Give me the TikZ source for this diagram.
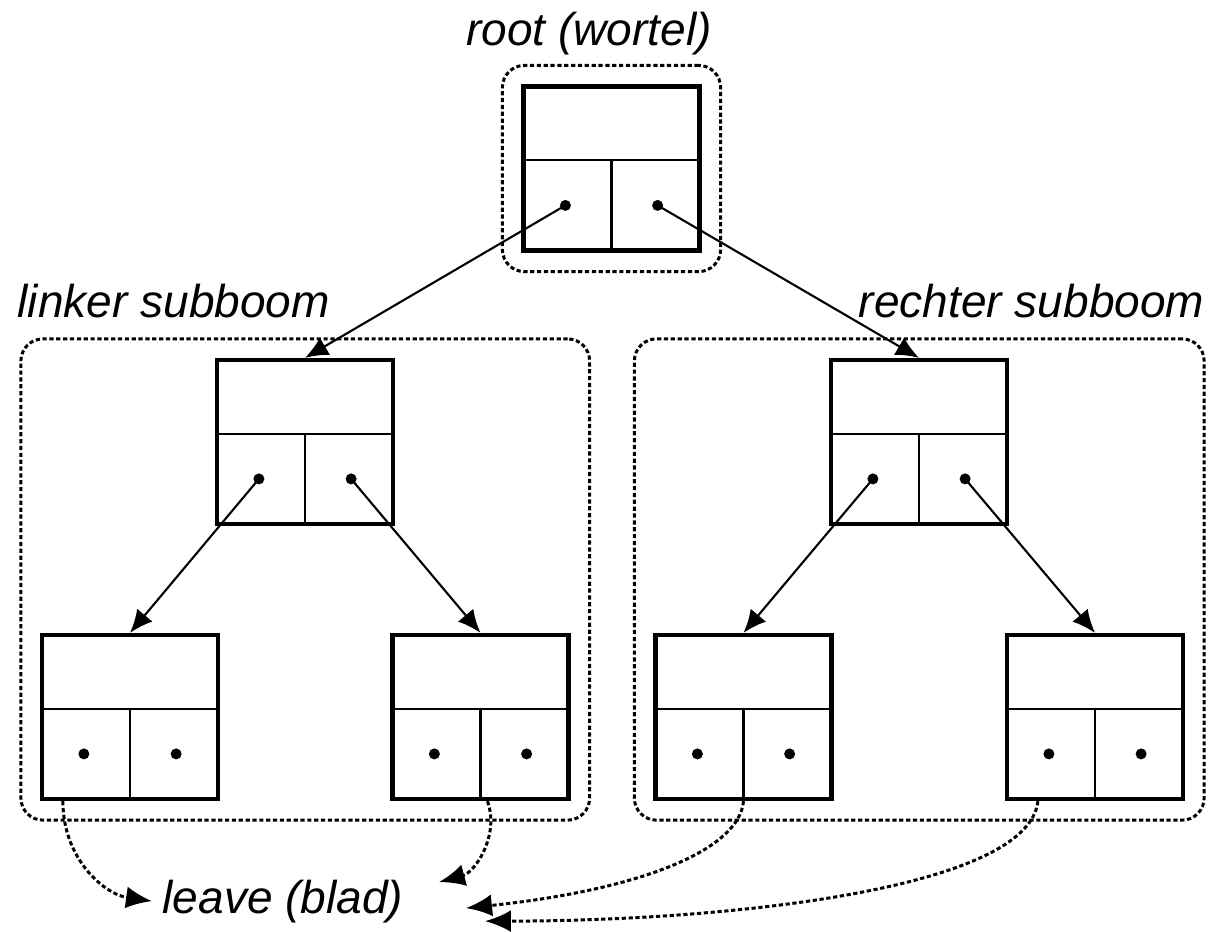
\documentclass[tikz,border=0pt]{standalone}
\usepackage{fontspec}
\setmainfont{Liberation Sans}
\usetikzlibrary{arrows.meta,fit}

\begin{document}
\begin{tikzpicture}[scale=1,
  cell/.style={draw,line width=1.2pt,minimum width=1.76cm,minimum height=1.64cm,inner sep=0pt},
  frame/.style={draw,line width=0.85pt,dash pattern=on 1.2pt off 0.75pt,rounded corners=0.22cm,inner sep=0.19cm},
  link/.style={line width=0.6pt,-{Latex[length=2.3mm,width=2mm]}},
  leafarrow/.style={line width=0.85pt,dash pattern=on 1.2pt off 0.75pt,-{Latex[length=2.6mm,width=2.2mm]}},
  lbl/.style={font=\fontsize{13.1}{15}\selectfont\itshape,inner sep=0.1cm}]
\useasboundingbox (0,0) rectangle (12.13,9.31);
% cells: value on top, left and right pointer below
\foreach \n/\x/\y in {root/6.115/7.625, lm/3.05/4.89, rm/9.19/4.89,
  ll/1.30/2.14, lr/4.805/2.14, rl/7.435/2.14, rr/10.95/2.14} {
  \node[cell] (\n) at (\x,\y) {};
  \draw[line width=0.6pt] ([yshift=-0.76cm]\n.north west) -- ([yshift=-0.76cm]\n.north east);
  \draw[line width=0.6pt] ([yshift=-0.76cm]\n.north) -- (\n.south);
  \coordinate (\n-l) at ([shift={(0.44,-1.21)}]\n.north west);
  \coordinate (\n-r) at ([shift={(-0.44,-1.21)}]\n.north east);
  \fill (\n-l) circle (0.055) (\n-r) circle (0.055);
}
% dashed groups
\node[frame,fit=(root)] (rootframe) {};
\node[frame,fit=(lm)(ll)(lr)] (leftframe) {};
\node[frame,fit=(rm)(rl)(rr)] (rightframe) {};
% labels
\node[lbl,anchor=base] (rootlbl) at (5.89,8.86) {root (wortel)};
\node[lbl,anchor=base west] (leftlbl) at (0.07,6.14) {linker subboom};
\node[lbl,anchor=base east] (rightlbl) at (12.15,6.14) {rechter subboom};
\node[lbl,anchor=base west] (leaf) at (1.52,0.18) {leave (blad)};
% pointers
\draw[link] (root-l) -- (lm.north);
\draw[link] (root-r) -- (rm.north);
\draw[link] (lm-l) -- (ll.north);
\draw[link] (lm-r) -- (lr.north);
\draw[link] (rm-l) -- (rl.north);
\draw[link] (rm-r) -- (rr.north);
% leaves
\draw[leafarrow] ([xshift=0.23cm]ll.south west) to[out=-90,in=172,out distance=0.59cm,in distance=0.47cm] (leaf.west);
\draw[leafarrow] ([xshift=0.97cm]lr.south west) to[out=-70,in=15] ([shift={(0.25,0.19)}]leaf.east);
\draw[leafarrow] (rl.south) to[out=-95,in=6,out distance=0.49cm,in distance=1.76cm] ([shift={(0.52,-0.07)}]leaf.east);
\draw[leafarrow] ([xshift=0.33cm]rr.south west) to[out=-96,in=0,out distance=0.9cm,in distance=2.33cm] ([shift={(0.71,-0.20)}]leaf.east);
\end{tikzpicture}
\end{document}
